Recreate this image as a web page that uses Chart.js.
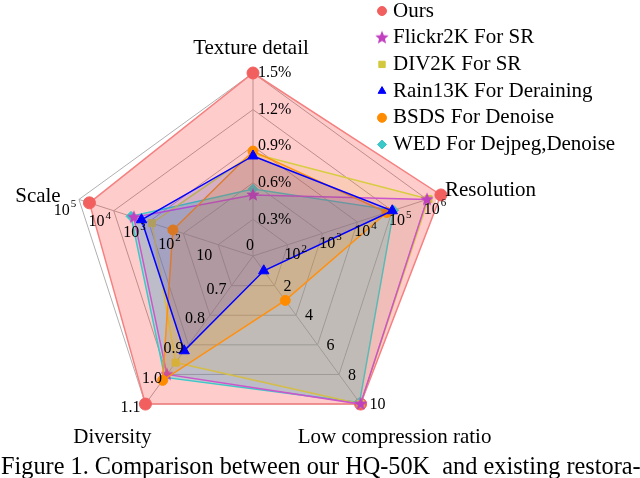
<!DOCTYPE html>
<html>
<head>
<meta charset="utf-8">
<script src="https://cdn.jsdelivr.net/npm/chart.js@4.4.1/dist/chart.umd.min.js"></script>
<style>
  html, body { margin: 0; padding: 0; background: #fff; }
  #wrap { width: 640px; height: 478px; }
</style>
</head>
<body>
<div id="wrap"><canvas id="radar" width="640" height="478"></canvas></div>
<script>
// Axis names, clockwise from the top
const axisNames = ['Texture detail', 'Resolution', 'Low compression ratio', 'Diversity', 'Scale'];

// Raw values, same order as axisNames:
// texture detail (%), resolution (pixels), low compression ratio, diversity, scale (images)
const oursData = [1.5, 2.5e6, 10, 1.1, 5e4];
const flickrData = [0.5, 1.0e6, 10, 1.0, 2650];
const div2kData = [0.84, 1.1e6, 10, 0.96, 800];
const rainData = [0.82, 1.0e5, 1, 0.92, 1600];
const bsdsData = [0.86, 7e4, 3, 1.02, 200];
const wedData = [0.55, 1.1e5, 9.9, 1.01, 3200];

// Tick labels on each axis, ring 1 to ring 5
const textureTicks = ['0.3%', '0.6%', '0.9%', '1.2%', '1.5%'];
const resolutionTicks = [2, 3, 4, 5, 6]; // powers of ten
const compressionTicks = ['2', '4', '6', '8', '10'];
const diversityTicks = ['0.7', '0.8', '0.9', '1.0', '1.1'];
const scaleTicks = [1, 2, 3, 4, 5]; // powers of ten

const captionText = 'Figure 1. Comparison between our HQ-50K  and existing restora-';

// every axis has its own scale, map each value to a ring (0 = centre, 5 = outer ring)
const toRing = [
  (v) => v / 0.3,
  (v) => Math.log10(v) - 1,
  (v) => v / 2,
  (v) => (v - 0.6) / 0.1,
  (v) => Math.log10(v),
];
function rings(values) {
  return values.map((v, i) => toRing[i](v));
}

// filled star marker (Chart.js 'star' is only an outline)
function starMarker(color, r) {
  const c = document.createElement('canvas');
  c.width = c.height = r * 2 + 2;
  const g = c.getContext('2d');
  g.fillStyle = color;
  g.beginPath();
  for (let i = 0; i < 10; i++) {
    const rad = i % 2 === 0 ? r : r * 0.45;
    const a = -Math.PI / 2 + (i * Math.PI) / 5;
    g.lineTo(r + 1 + rad * Math.cos(a), r + 1 + rad * Math.sin(a));
  }
  g.closePath();
  g.fill();
  return c;
}

function makeSet(label, values, line, fill, point, style, radius, order) {
  return {
    label: label,
    data: rings(values),
    order: order,
    borderColor: line,
    backgroundColor: fill,
    borderWidth: 1.5,
    fill: true,
    pointStyle: style,
    pointRadius: radius,
    pointBackgroundColor: point,
    pointBorderColor: point,
    pointBorderWidth: 1,
  };
}

// higher order is drawn first, so Ours lies at the bottom
const datasets = [
  makeSet('Ours', oursData, '#f58080', 'rgba(255,0,0,0.2)', '#f25f5f', 'circle', 6, 6),
  makeSet('Flickr2K For SR', flickrData, '#cc55cc', 'rgba(170,60,190,0.1)', '#c040c0', starMarker('#c040c0', 7), 7, 3),
  makeSet('DIV2K For SR', div2kData, '#d8cc40', 'rgba(215,200,50,0.13)', '#d2c83c', 'rect', 5, 4),
  makeSet('Rain13K For Deraining', rainData, '#0000ff', 'rgba(0,0,255,0.14)', '#0000ff', 'triangle', 6, 1),
  makeSet('BSDS For Denoise', bsdsData, '#ff9010', 'rgba(255,140,0,0.2)', '#ff8c00', 'circle', 5, 2),
  makeSet('WED For Dejpeg,Denoise', wedData, '#40c8c8', 'rgba(60,200,200,0.32)', '#3cc8c8', 'rectRot', 5, 5),
];

const serif = "'Liberation Serif', 'Times New Roman', serif";

// "10" with a raised exponent
function drawPow(ctx, exp, x, y, align) {
  ctx.font = '16px ' + serif;
  const baseW = ctx.measureText('10').width;
  const expStr = exp > 1 ? String(exp) : '';
  ctx.font = '11px ' + serif;
  const expW = expStr ? ctx.measureText(expStr).width + 1 : 0;
  const w = baseW + expW;
  let left = x;
  if (align === 'center') left = x - w / 2;
  if (align === 'right') left = x - w;
  ctx.textAlign = 'left';
  ctx.textBaseline = 'middle';
  ctx.font = '16px ' + serif;
  ctx.fillText('10', left, y);
  if (expStr) {
    ctx.font = '11px ' + serif;
    ctx.fillText(expStr, left + baseW + 1, y - 6);
  }
}

const labelPlugin = {
  id: 'labelPlugin',
  afterDraw(chart) {
    const ctx = chart.ctx;
    const scale = chart.scales.r;
    const R = scale.drawingArea;
    ctx.save();
    ctx.fillStyle = '#000';

    // tick labels per axis
    for (let k = 1; k <= 5; k++) {
      const d = scale.getDistanceFromCenterForValue(k);
      let p = scale.getPointPosition(0, d);
      ctx.font = '16px ' + serif;
      ctx.textBaseline = 'middle';
      ctx.textAlign = 'left';
      ctx.fillText(textureTicks[k - 1], p.x + 5, p.y);

      p = scale.getPointPosition(1, d);
      drawPow(ctx, resolutionTicks[k - 1], p.x + 8, p.y + 10, 'center');

      p = scale.getPointPosition(2, d);
      ctx.font = '16px ' + serif;
      ctx.textAlign = 'left';
      ctx.fillText(compressionTicks[k - 1], p.x + 9, p.y + 1);

      p = scale.getPointPosition(3, d);
      ctx.textAlign = 'right';
      ctx.fillText(diversityTicks[k - 1], p.x - 5, p.y + 4);

      p = scale.getPointPosition(4, d);
      drawPow(ctx, scaleTicks[k - 1], p.x - 14, p.y + 11, 'center');
    }
    ctx.font = '16px ' + serif;
    ctx.textAlign = 'center';
    ctx.fillText('0', scale.xCenter - 3, scale.yCenter - 10);

    // axis titles
    ctx.font = '21px ' + serif;
    const offsets = [[-2, -25, 'center'], [18, -9, 'left'], [34, 33, 'center'], [-33, 33, 'center'], [-41, -3, 'center']];
    axisNames.forEach((name, i) => {
      const p = scale.getPointPosition(i, R);
      ctx.textAlign = offsets[i][2];
      ctx.fillText(name, p.x + offsets[i][0], p.y + offsets[i][1]);
    });

    // legend
    chart.data.datasets.forEach((ds, i) => {
      const y = 11 + i * 26.7;
      ctx.fillStyle = ds.pointBackgroundColor;
      ctx.strokeStyle = ds.pointBorderColor;
      ctx.lineWidth = 1;
      Chart.helpers.drawPoint(ctx, { pointStyle: ds.pointStyle, radius: i === 1 ? 6 : 4.5, rotation: 0, borderWidth: 1 }, 382, y);
      ctx.fillStyle = '#000';
      ctx.font = '21px ' + serif;
      ctx.textAlign = 'left';
      ctx.fillText(ds.label, 393, y);
    });

    // caption
    ctx.font = '24.3px ' + serif;
    ctx.textAlign = 'left';
    ctx.fillText(captionText, 1, 468);
    ctx.restore();
  },
};

// centre (253,256), radius 183
new Chart(document.getElementById('radar'), {
  type: 'radar',
  data: { labels: axisNames, datasets: datasets },
  options: {
    responsive: false,
    devicePixelRatio: 1,
    animation: false,
    layout: { padding: { left: 70, top: 73, right: 204, bottom: 39 } },
    elements: { line: { tension: 0 } },
    scales: {
      r: {
        min: 0,
        max: 5,
        ticks: { display: false, stepSize: 1 },
        grid: { color: '#b0b0b0', lineWidth: 1 },
        angleLines: { color: '#b0b0b0', lineWidth: 1 },
        pointLabels: { display: false },
      },
    },
    plugins: {
      legend: { display: false },
      tooltip: { enabled: false },
    },
  },
  plugins: [labelPlugin],
});
</script>
</body>
</html>
